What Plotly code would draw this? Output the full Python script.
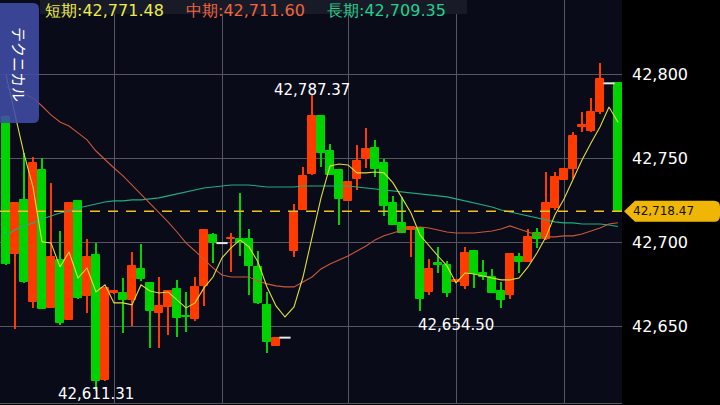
import plotly.graph_objects as go

# ---------------- data ----------------
opens = [42774.4, 42692.9, 42725.2, 42664.6, 42743.0, 42661.1, 42689.5, 42653.8, 42724.6, 42668.0,
         42692.3, 42618.0, 42669.6, 42670.0, 42665.7, 42683.9, 42676.0, 42658.1, 42661.7, 42672.0,
         42656.0, 42654.3, 42674.2, 42704.3, 42699.5, 42701.8, 42702.0, 42701.8, 42685.1, 42662.7,
         42638.5, 42643.2, 42695.0, 42719.2, 42740.5, 42775.2, 42754.3, 42743.0, 42724.6, 42737.9,
         42749.8, 42756.3, 42747.2, 42723.4, 42711.3, 42707.3, 42708.7, 42670.2, 42687.5, 42686.5,
         42676.2, 42674.2, 42695.0, 42681.9, 42679.2, 42671.0, 42668.5, 42691.1, 42688.5, 42705.7,
         42702.0, 42720.6, 42737.1, 42743.6, 42768.5, 42766.4, 42777.4, 42794.6, 42794.6]
highs = [42776.0, 42723.5, 42753.0, 42750.6, 42750.0, 42735.1, 42706.9, 42723.5, 42725.0, 42701.8,
         42699.8, 42673.0, 42671.3, 42678.6, 42694.4, 42699.0, 42676.5, 42679.5, 42671.5, 42677.6,
         42670.2, 42679.5, 42707.5, 42705.7, 42699.5, 42705.4, 42729.5, 42707.7, 42694.8, 42670.2,
         42643.5, 42643.2, 42722.6, 42744.6, 42787.37, 42775.5, 42758.5, 42743.5, 42736.5, 42757.9,
         42767.9, 42760.9, 42749.6, 42727.7, 42726.8, 42709.5, 42709.0, 42690.1, 42697.4, 42689.0,
         42677.8, 42697.4, 42695.5, 42689.5, 42683.9, 42676.5, 42693.5, 42693.8, 42707.7, 42708.3,
         42741.7, 42742.0, 42743.8, 42765.8, 42777.7, 42786.0, 42806.9, 42794.6, 42794.6]
lows = [42686.5, 42648.2, 42676.0, 42660.7, 42660.0, 42660.8, 42650.8, 42653.5, 42666.5, 42657.7,
        42611.31, 42617.5, 42669.3, 42646.2, 42650.2, 42677.0, 42636.9, 42636.9, 42644.8, 42643.5,
        42646.8, 42653.3, 42662.3, 42687.9, 42699.5, 42682.5, 42692.0, 42668.6, 42663.5, 42634.3,
        42638.0, 42643.2, 42691.4, 42719.0, 42740.0, 42745.0, 42740.0, 42710.3, 42724.3, 42731.1,
        42744.0, 42739.0, 42715.8, 42710.0, 42705.5, 42691.1, 42659.1, 42668.8, 42681.5, 42667.6,
        42676.0, 42672.0, 42672.6, 42677.6, 42669.5, 42660.7, 42666.4, 42681.5, 42688.0, 42696.8,
        42701.5, 42719.2, 42736.8, 42737.7, 42765.8, 42765.5, 42776.2, 42794.6, 42718.47]
closes = [42687.1, 42723.2, 42676.5, 42747.4, 42660.3, 42691.1, 42651.8, 42723.2, 42667.0, 42691.4,
          42617.6, 42672.6, 42671.0, 42665.7, 42685.9, 42678.2, 42659.3, 42662.1, 42671.0, 42654.8,
          42655.4, 42673.2, 42707.3, 42699.8, 42699.5, 42702.4, 42699.4, 42686.1, 42664.0, 42640.8,
          42643.2, 42643.2, 42717.6, 42739.5, 42775.4, 42753.3, 42740.1, 42725.8, 42736.1, 42748.6,
          42755.5, 42743.5, 42721.8, 42710.5, 42705.7, 42709.3, 42666.3, 42684.1, 42686.5, 42669.6,
          42677.6, 42693.8, 42681.1, 42679.2, 42669.6, 42665.7, 42693.0, 42688.5, 42703.2, 42702.0,
          42723.2, 42739.0, 42743.5, 42763.3, 42769.8, 42777.7, 42797.2, 42794.6, 42718.47]

ma_short = [42799.6, 42775.8, 42752.6, 42732.9, 42700.2, 42699.6, 42685.3, 42694.2, 42678.7, 42684.7,
            42670.4, 42674.6, 42663.9, 42663.9, 42662.7, 42674.6, 42671.0, 42669.8, 42670.4, 42665.7,
            42660.9, 42663.9, 42672.8, 42679.3, 42690.7, 42696.6, 42701.4, 42697.2, 42688.3, 42673.4,
            42662.1, 42655.5, 42661.5, 42679.3, 42703.2, 42726.4, 42745.4, 42746.6, 42746.0, 42741.3,
            42741.3, 42741.8, 42741.3, 42735.3, 42726.4, 42717.4, 42704.3, 42697.8, 42691.8, 42685.9,
            42675.8, 42681.7, 42681.1, 42679.9, 42678.7, 42677.6, 42677.6, 42678.7, 42685.3, 42693.6,
            42703.2, 42716.3, 42725.8, 42737.1, 42749.0, 42759.1, 42768.6, 42780.5, 42771.48]
ma_mid = [42792.4, 42790.1, 42788.3, 42785.9, 42781.1, 42775.8, 42771.6, 42769.2, 42765.1, 42760.9,
          42754.3, 42749.0, 42744.2, 42739.5, 42734.1, 42728.8, 42722.8, 42717.4, 42712.1, 42706.1,
          42699.6, 42694.8, 42689.5, 42684.7, 42680.5, 42679.3, 42679.3, 42679.3, 42677.0, 42675.2,
          42674.0, 42673.4, 42673.4, 42676.4, 42679.3, 42684.1, 42687.1, 42689.5, 42691.8, 42694.8,
          42697.8, 42701.4, 42703.8, 42705.5, 42707.3, 42708.5, 42709.1, 42708.5, 42707.3, 42706.1,
          42705.5, 42705.5, 42705.5, 42706.1, 42706.7, 42707.9, 42709.7, 42707.9, 42706.1, 42704.3,
          42703.2, 42703.2, 42703.8, 42703.8, 42704.9, 42706.7, 42708.5, 42710.9, 42711.60]
ma_long = [42704.3, 42707.3, 42709.7, 42711.5, 42713.9, 42715.7, 42717.4, 42718.6, 42720.4, 42721.6,
           42722.8, 42724.0, 42724.6, 42724.6, 42725.2, 42725.2, 42725.8, 42726.4, 42727.6, 42728.8,
           42729.9, 42731.1, 42732.3, 42732.9, 42733.5, 42734.1, 42734.1, 42734.1, 42733.5, 42732.9,
           42732.9, 42732.9, 42732.9, 42733.5, 42733.5, 42733.5, 42733.5, 42733.5, 42733.5, 42732.9,
           42732.3, 42731.7, 42731.1, 42730.5, 42729.9, 42729.3, 42728.8, 42728.2, 42727.6, 42727.0,
           42725.8, 42724.6, 42723.4, 42722.2, 42721.0, 42719.2, 42718.0, 42716.8, 42715.7, 42714.5,
           42713.3, 42712.1, 42711.5, 42711.5, 42710.9, 42710.9, 42710.9, 42710.3, 42709.35]

price_ticks = [42650, 42700, 42750, 42800]
time_grid = [12, 24, 38, 50, 62]
current_price = 42718.47
mark_idx = [34, 10, 50]
mark_vals = [42787.37, 42611.31, 42654.50]
mark_side = ["above", "below", "below"]
button_label = "テクニカル"
ma_names = ["短期", "中期", "長期"]

# ---------------- styles ----------------
UP = "#ff3b00"
DOWN = "#00d400"
DOJI = "#e6e6e6"
MA_COLORS = ["#dede3c", "#c9583a", "#1fae80"]
TXT_COLORS = ["#ecec4c", "#f0643e", "#22d08c"]
GRID = "#55565e"
FONT = "DejaVu Sans"
Y_RANGE = [42604.3, 42844.2]
X_RANGE = [-0.667, 68.444]
MARK_SHIFT = [-5, 7, 4]

n = len(opens)
idx = list(range(n))

def col(o, c):
    if c > o:
        return UP
    if c < o:
        return DOWN
    return DOJI

colors = [col(o, c) for o, c in zip(opens, closes)]
body_base = [min(o, c) for o, c in zip(opens, closes)]
body_h = [abs(c - o) for o, c in zip(opens, closes)]
wick_h = [h - l for h, l in zip(highs, lows)]
doji_x = [i for i in idx if opens[i] == closes[i]]
doji_y = [closes[i] for i in doji_x]
body_x = [i for i in idx if opens[i] != closes[i]]

fig = go.Figure()
fig.add_trace(go.Bar(x=idx, y=wick_h, base=lows, width=0.12,
                     marker=dict(color=colors, line=dict(width=0)), hoverinfo="skip"))
fig.add_trace(go.Bar(x=body_x, y=[body_h[i] for i in body_x], base=[body_base[i] for i in body_x],
                     width=0.78,
                     marker=dict(color=[colors[i] for i in body_x],
                                 line=dict(width=1, color=[colors[i] for i in body_x])),
                     hoverinfo="skip"))
fig.add_trace(go.Scatter(x=doji_x, y=doji_y, mode="markers",
                         marker=dict(symbol="line-ew", size=8, line=dict(width=2, color=DOJI)),
                         hoverinfo="skip"))
for series, c in zip([ma_long, ma_mid, ma_short], [MA_COLORS[2], MA_COLORS[1], MA_COLORS[0]]):
    fig.add_trace(go.Scatter(x=idx, y=series, mode="lines", line=dict(color=c, width=1.1),
                             hoverinfo="skip"))

ymin, ymax = Y_RANGE
price_frac = (current_price - ymin) / (ymax - ymin)

shapes = [
    dict(type="line", xref="paper", yref="y", x0=0, x1=1, y0=current_price, y1=current_price,
         line=dict(color="#f2c21c", width=1.4, dash="10px,8px"), layer="above"),
    dict(type="path", xref="paper", yref="paper", xsizemode="pixel", ysizemode="pixel",
         xanchor=1, yanchor=price_frac,
         path="M 2,0 L 13,10.5 L 92,10.5 Q 98,10.5 98,4.5 L 98,-4.5 Q 98,-10.5 92,-10.5 L 13,-10.5 Z",
         fillcolor="#f0b606", line=dict(width=0), layer="above"),
    dict(type="rect", xref="paper", yref="paper", xsizemode="pixel", ysizemode="pixel",
         xanchor=0, yanchor=1, x0=40, x1=467, y0=0, y1=-14,
         fillcolor="#181a27", line=dict(width=0), layer="above"),
    dict(type="path", xref="paper", yref="paper", xsizemode="pixel", ysizemode="pixel",
         xanchor=0, yanchor=1,
         path="M 0,-3 L 33,-3 Q 39,-3 39,-9 L 39,-117 Q 39,-123 33,-123 L 0,-123 Z",
         fillcolor="rgba(64,76,165,0.88)", line=dict(width=0), layer="above"),
]

annotations = []
ma_last = [ma_short[-1], ma_mid[-1], ma_long[-1]]
for name, v, c, xs in zip(ma_names, ma_last, TXT_COLORS, [44, 185, 326]):
    annotations.append(dict(xref="paper", yref="paper", x=0, y=1, xshift=xs, yshift=0,
                            xanchor="left", yanchor="top", showarrow=False, borderpad=0,
                            text=f"{name}:{v:,.2f}", font=dict(family=FONT, size=16, color=c)))
annotations.append(dict(xref="paper", yref="paper", x=0, y=1, xshift=20, yshift=-64,
                        xanchor="center", yanchor="middle", showarrow=False, textangle=90,
                        text=button_label,
                        font=dict(family="Noto Sans CJK JP", size=15, color="#ffffff")))
for i, v, side, sh in zip(mark_idx, mark_vals, mark_side, MARK_SHIFT):
    annotations.append(dict(x=i, y=v, xref="x", yref="y", showarrow=False, borderpad=0,
                            yanchor="bottom" if side == "above" else "top", yshift=sh,
                            text=f"{v:,.2f}", font=dict(family=FONT, size=15, color="#ffffff")))
annotations.append(dict(xref="paper", yref="y", x=1, y=current_price, xshift=9,
                        xanchor="left", yanchor="middle", showarrow=False,
                        text=f"{current_price:,.2f}", font=dict(family=FONT, size=12, color="#111111")))

fig.update_layout(
    width=720, height=405,
    margin=dict(l=0, r=98, t=0, b=2),
    paper_bgcolor="#000000", plot_bgcolor="#090b19",
    showlegend=False, barmode="overlay", bargap=0,
    shapes=shapes, annotations=annotations,
    xaxis=dict(range=X_RANGE, tickvals=time_grid, showticklabels=False, showgrid=True,
               gridcolor=GRID, gridwidth=1, zeroline=False, showline=True, linecolor=GRID,
               ticks="", fixedrange=True),
    yaxis=dict(range=Y_RANGE, side="right", tickvals=price_ticks,
               ticktext=[f"{t:,}" for t in price_ticks], showgrid=True, gridcolor=GRID,
               gridwidth=1, zeroline=False, ticks="", ticklabelstandoff=9,
               tickfont=dict(family=FONT, size=16, color="#ffffff"), fixedrange=True),
)

fig.write_html("out.html", config={"displayModeBar": False},
               post_script="document.body.style.margin='0';document.body.style.background='#000';")
